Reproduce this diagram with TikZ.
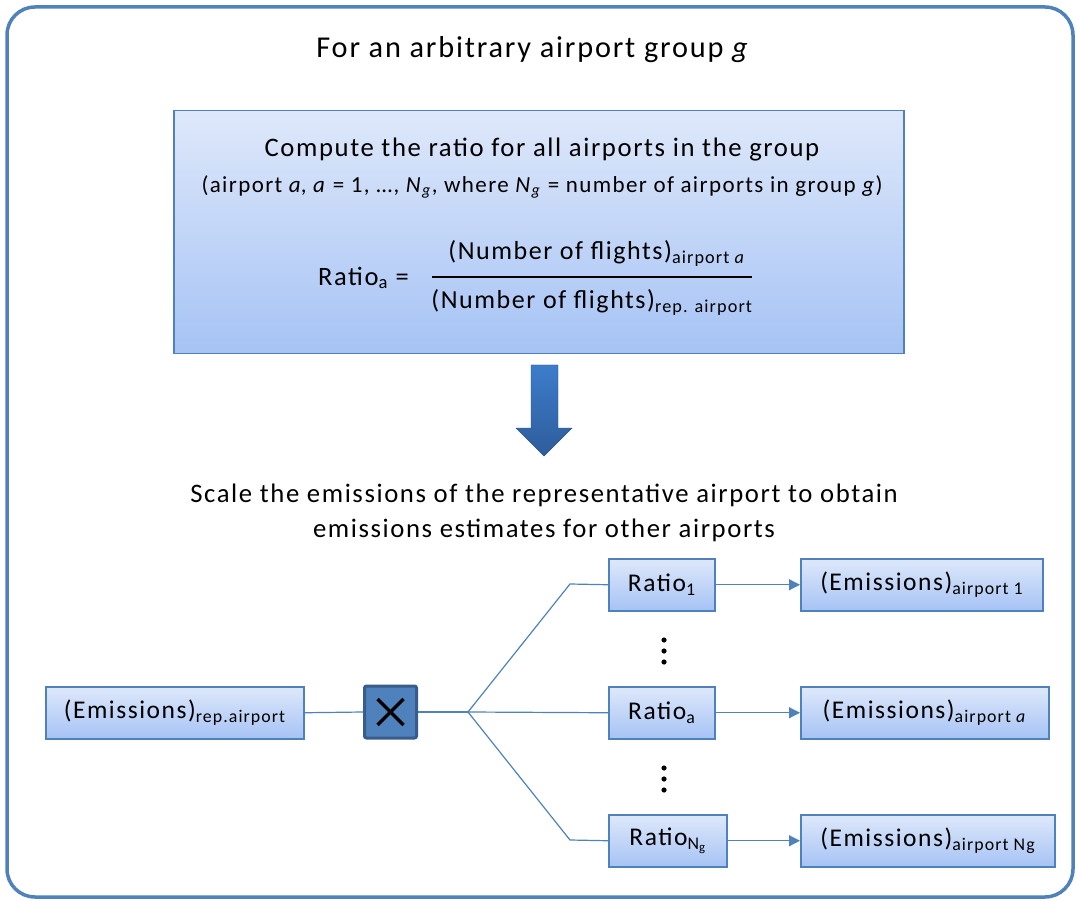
\documentclass[tikz,border=0pt]{standalone}
\usepackage{fontspec}
\usepackage{amsmath}
\setmainfont{Carlito}[LetterSpace=6]
\usetikzlibrary{arrows.meta}
\definecolor{frame}{HTML}{4F81BD}
\definecolor{boxtop}{HTML}{DEE8FA}
\definecolor{boxbot}{HTML}{A6C3F5}
\definecolor{darkb}{HTML}{385D8A}
\definecolor{arrtop}{HTML}{3D7CCB}
\definecolor{arrbot}{HTML}{2E5D9B}
\newcommand\sbs[1]{$_{\text{#1}}$}
\newcommand\fsz[1]{\fontsize{#1}{#1}\selectfont}
\begin{document}
\begin{tikzpicture}[x=1pt,y=-1pt,
  bluebox/.style={draw=frame, line width=1.5pt, top color=boxtop, bottom color=boxbot, inner sep=0pt, anchor=north west, font=\fsz{25.5}},
  conn/.style={draw=frame, line width=1.2pt},
  arr/.style={conn, -{Triangle[length=11pt,width=11pt]}},
  txt/.style={inner sep=0pt, font=\fsz{26.5}}]
\useasboundingbox (0,0) rectangle (1077,901);
\draw[frame, line width=3.5pt, rounded corners=28pt] (7,7) rectangle (1073,897);
\node[txt, font=\fsz{30.3}] (title) at (533,50) {For an arbitrary airport group \textit{g}};
% top box
\node[bluebox, minimum width=730pt, minimum height=243pt] (top) at (173,110) {};
\node[txt, font=\fsz{26.7}] (t1) at (542,150) {Compute the ratio for all airports in the group};
\node[txt, font=\fsz{23}] (t2) at (542,187) {(airport \textit{a}, \textit{a} = 1, …, \textit{N}\textsubscript{\textit{g}}, where \textit{N}\textsubscript{\textit{g}} = number of airports in group \textit{g})};
\node[txt, font=\fsz{26.5}, anchor=west] (rlab) at (318,278) {Ratio\sbs{a} =};
\node[txt, font=\fsz{26}] (num) at (597,253) {(Number of flights)\sbs{airport \textit{a}}};
\node[txt, font=\fsz{26}] (den) at (592,302) {(Number of flights)\sbs{rep. airport}};
\draw[line width=1.5pt] (432,277) -- (752,277);
% down arrow
\shade[top color=arrtop, bottom color=arrbot, draw=arrbot!85!black, line width=0.4pt]
  (531,365) -- (558,365) -- (558,428) -- (572,428) -- (544,456) -- (516,428) -- (531,428) -- cycle;
\node[txt, font=\fsz{26.7}, align=center] (scale) at (544,513) {Scale the emissions of the representative airport to obtain\\[9pt]emissions estimates for other airports};
% bottom
\node[bluebox, minimum width=258pt, minimum height=52pt] (erep) at (45,686) {(Emissions)\sbs{rep.airport}};
\node[draw=darkb, fill=frame, line width=3pt, rounded corners=2pt, minimum size=52pt, inner sep=0pt] (mul) at (390.5,712) {};
\draw[line width=3.5pt] ([shift={(-13,-13)}]mul.center) -- ([shift={(13,13)}]mul.center);
\draw[line width=3.5pt] ([shift={(-13,13)}]mul.center) -- ([shift={(13,-13)}]mul.center);
\node[bluebox, minimum width=106pt, minimum height=52pt] (r1) at (608,558) {Ratio\sbs{1}};
\node[bluebox, minimum width=106pt, minimum height=52pt] (ra) at (608,686) {Ratio\sbs{a}};
\node[bluebox, minimum width=118pt, minimum height=52pt] (rn) at (608,814) {Ratio$_{\text{N}_{\text{g}}}$};
\node[bluebox, minimum width=242pt, minimum height=52pt] (e1) at (800,558) {(Emissions)\sbs{airport 1}};
\node[bluebox, minimum width=248pt, minimum height=52pt] (ea) at (800,686) {(Emissions)\sbs{airport \textit{a}}};
\node[bluebox, minimum width=254pt, minimum height=52pt] (en) at (800,814) {(Emissions)\sbs{airport Ng}};
\coordinate (br) at (468,712);
\coordinate (c1) at (570,584);
\coordinate (c3) at (570,840);
\draw[conn] (erep.east) -- (mul.west);
\draw[conn] (mul.east) -- (br);
\draw[conn] (br) -- (c1) -- (r1.west);
\draw[conn] (br) -- (ra.west);
\draw[conn] (br) -- (c3) -- (rn.west);
\draw[arr] (r1.east) -- (e1.west);
\draw[arr] (ra.east) -- (ea.west);
\draw[arr] (rn.east) -- (en.west);
\foreach \y in {640,651,662,768,779,790} \fill (664,\y) circle (2.6pt);
\end{tikzpicture}
\end{document}
